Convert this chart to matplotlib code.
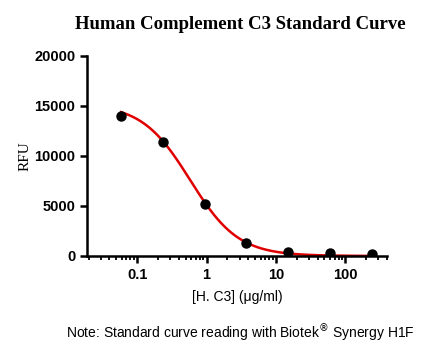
import numpy as np
import matplotlib.pyplot as plt

# concentrations (ug/ml) and RFU readings
conc = [0.0586, 0.234, 0.9375, 3.75, 15, 60, 240]
rfu = [14000, 11350, 5150, 1300, 400, 300, 200]

# 4PL fit parameters (estimated from curve)
top, bottom, ec50, hill = 15200, 0, 0.58, 1.25

fig = plt.figure(figsize=(4.33, 3.56), dpi=100)
ax = fig.add_axes([0.201, 0.281, 0.693, 0.562])

xs = np.logspace(np.log10(conc[0]), np.log10(conc[-1]), 300)
ys = bottom + (top - bottom) / (1 + (xs / ec50) ** hill)
ax.plot(xs, ys, color="#e00000", lw=1.8, zorder=2)
ax.plot(conc, rfu, "o", color="black", ms=6.5, zorder=3)

ax.set_xscale("log")
ax.set_xlim(0.019, 400)
ax.set_ylim(0, 20000)
ax.set_yticks([0, 5000, 10000, 15000, 20000])
ax.set_xticks([0.1, 1, 10, 100])
ax.set_xticklabels(["0.1", "1", "10", "100"])

for s in ["top", "right"]:
    ax.spines[s].set_visible(False)
for s in ["left", "bottom"]:
    ax.spines[s].set_linewidth(1.8)
ax.tick_params(which="major", length=5, width=1.8, direction="out")
ax.tick_params(which="minor", length=3, width=1.3, direction="out")
for lab in ax.get_xticklabels() + ax.get_yticklabels():
    lab.set_fontfamily("Liberation Sans")
    lab.set_fontweight("bold")
    lab.set_fontsize(10.5)

ax.set_xlabel("[H. C3] (\u03bcg/ml)", fontfamily="Liberation Sans", fontsize=10, labelpad=6)
ax.set_ylabel("RFU", fontfamily="Liberation Serif", fontsize=11, labelpad=2)

fig.text(0.555, 0.93, "Human Complement C3 Standard Curve", ha="center", va="center",
         fontfamily="Liberation Serif", fontweight="bold", fontsize=13.5)
fig.text(0.555, 0.065, "Note: Standard curve reading with Biotek$^{\\circledR}$ Synergy H1F",
         ha="center", va="center", fontfamily="Liberation Sans", fontsize=10)

fig.savefig("out.png", dpi=100)
